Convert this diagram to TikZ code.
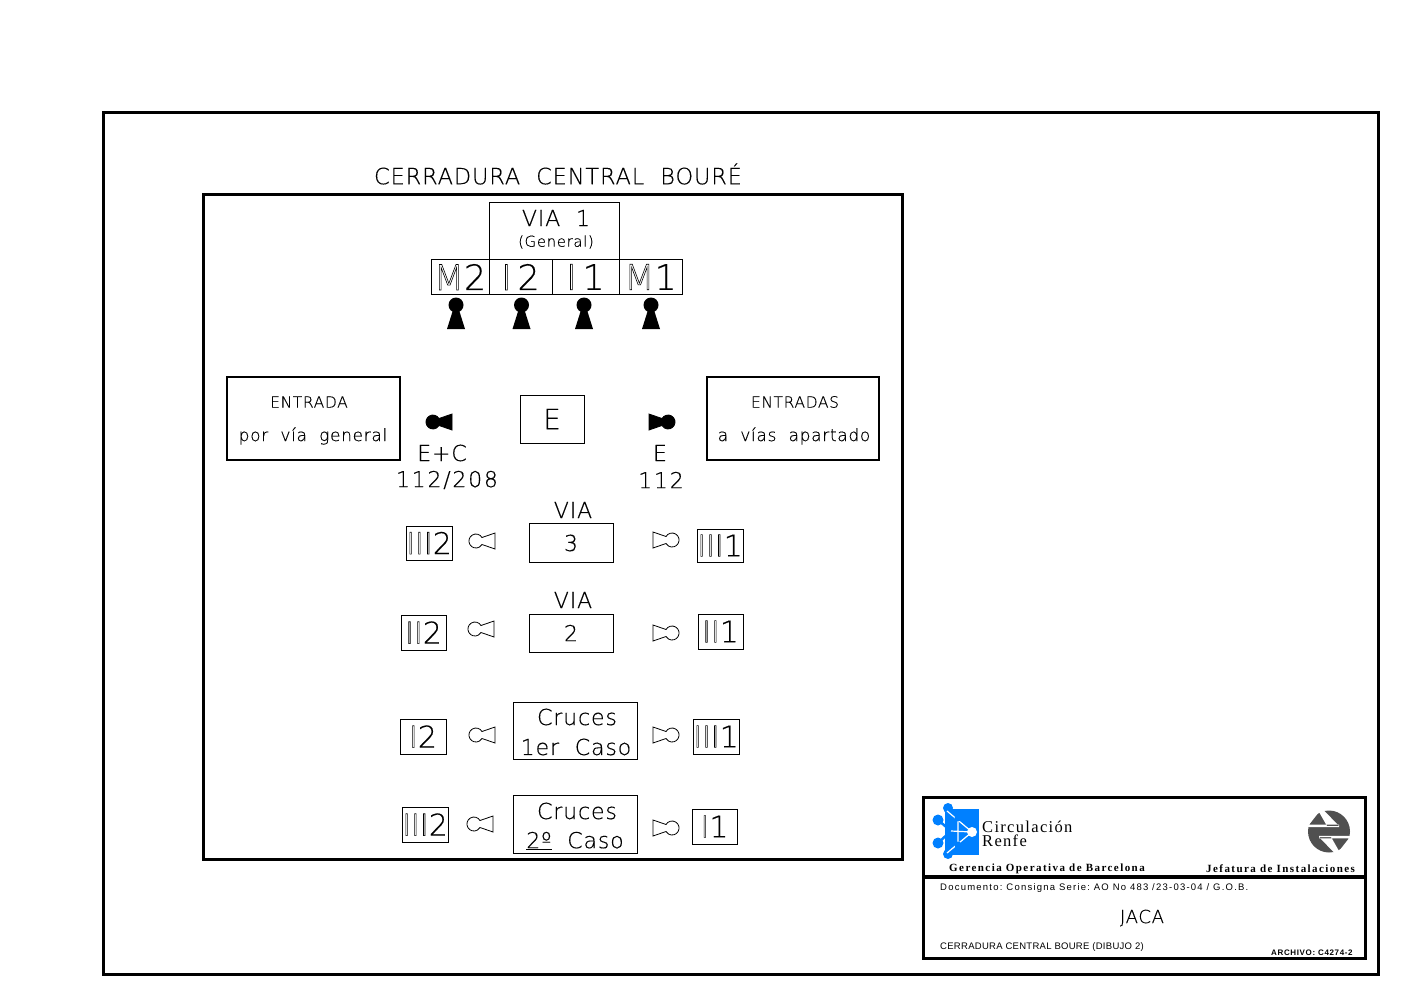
\documentclass[tikz,border=0pt]{standalone}
\usepackage{fontspec}
\setmainfont{DejaVu Sans ExtraLight}
\newfontfamily\cadfont[LetterSpace=4,FakeBold=0.35]{DejaVu Sans ExtraLight}
\newfontfamily\digfont[LetterSpace=8,FakeBold=0.35]{DejaVu Sans ExtraLight}
\newfontfamily\tagfont[FakeBold=0.35]{DejaVu Sans ExtraLight}
\newfontfamily\holfont{DejaVu Sans ExtraLight}
\newfontfamily\logofont[LetterSpace=8]{Liberation Serif}
\newfontfamily\boldfont[LetterSpace=13]{Liberation Serif}
\newfontfamily\smallfont[LetterSpace=3]{Liberation Sans}
\newfontfamily\docfont[LetterSpace=13]{Liberation Sans}
\newfontfamily\archfont[LetterSpace=8]{Liberation Sans}
\usepackage{xcolor}
\usepackage{tikz}
\usetikzlibrary{positioning}
\definecolor{logoblue}{RGB}{0,128,255}
\definecolor{logogray}{RGB}{80,80,80}
\newcommand{\hol}[1]{{\holfont\special{pdf:code 1 Tr 0.6 w}#1\special{pdf:code 0 Tr}}}
\tikzset{
  box/.style={draw, line width=1pt, inner sep=0pt, align=center, font=\cadfont\fontsize{22}{26}\selectfont},
  tag/.style={box, minimum width=46pt, minimum height=35pt, font=\tagfont\fontsize{30}{30}\selectfont},
  cell/.style={box, minimum height=35pt, font=\tagfont\fontsize{35}{35}\selectfont},
  panel/.style={draw, line width=2pt, inner sep=0pt},
  lbl/.style={inner sep=0pt, font=\cadfont\fontsize{22}{26}\selectfont},
  pantext/.style={inner sep=0pt, font=\cadfont\fontsize{17}{20}\selectfont},
  tiny/.style={inner sep=0pt, anchor=west, font=\smallfont\fontsize{9.5}{10}\selectfont},
  bold/.style={inner sep=0pt, anchor=west, font=\boldfont\bfseries\fontsize{11}{11}\selectfont},
  keyv/.pic={\fill (0,-24) circle (7.5) (-3,-19) -- (3,-19) -- (9,0) -- (-9,0) -- cycle;},
  keyr/.pic={\filldraw[fill=#1, draw=black, line width=.8pt] (0,-8) -- (-13,-3.5) arc (-30:-330:7) -- (0,8) -- cycle;},
  keyl/.pic={\filldraw[fill=#1, draw=black, line width=.8pt] (0,-8) -- (13,-3.5) arc (210:510:7) -- (0,8) -- cycle;}
}
\begin{document}
\begin{tikzpicture}[x=1pt,y=-1pt]
  \useasboundingbox (0,0) rectangle (1403,991);
  % frames
  \draw[line width=3pt] (103,112) rectangle (1378,974);
  \draw[line width=3pt] (203,194) rectangle (902,859);
  \node[lbl, font=\cadfont\fontsize{22.4}{26}\selectfont] (title) at (558,174) {CERRADURA\ \ CENTRAL\ \ BOURÉ};
  % via 1
  \node[box, minimum width=130pt, minimum height=57pt] (via1) at (554,231) {};
  \node[lbl] (via1a) at (556,218) {VIA\ \ 1};
  \node[inner sep=0pt, font=\cadfont\fontsize{15}{18}\selectfont] (via1b) at (556,242) {(General)};
  \node[cell, minimum width=58pt] (m2) at (460,277) {\hol{M}2};
  \node[cell, minimum width=63pt] (i2) at (520.5,277) {\hol{I}\,2};
  \node[cell, minimum width=67pt] (i1) at (585.5,277) {\hol{I}\,1};
  \node[cell, minimum width=63pt] (m1) at (650.5,277) {\hol{M}1};
  \foreach \x in {456,521.5,584,651} \pic at (\x,329) {keyv};
  % panels
  \node[panel, minimum width=173pt, minimum height=83pt] (entrada) at (313.5,418.5) {};
  \node[pantext, font=\cadfont\fontsize{15.5}{20}\selectfont] (entradaa) at (309,402) {ENTRADA};
  \node[pantext] (entradab) at (313,436) {por\ \ vía\ \ general};
  \node[panel, minimum width=172pt, minimum height=83pt] (entradas) at (793,418.5) {};
  \node[pantext, font=\cadfont\fontsize{15.5}{20}\selectfont] (entradasa) at (795,402) {ENTRADAS};
  \node[pantext] (entradasb) at (794,436) {a\ \ vías\ \ apartado};
  \node[box, minimum width=64pt, minimum height=48pt, font=\cadfont\fontsize{28}{28}\selectfont] (e) at (552,419) {E};
  \pic at (452,422) {keyr=black};
  \pic at (649,422) {keyl=black};
  \node[lbl] (ec) at (442,453) {E+C};
  \node[lbl, font=\digfont\fontsize{22}{26}\selectfont] (ecn) at (447,480) {112/208};
  \node[lbl] (er) at (660,453) {E};
  \node[lbl, font=\digfont\fontsize{22}{26}\selectfont] (ern) at (661,480) {112};
  % via 3
  \node[lbl] (via3) at (573,510) {VIA};
  \node[box, minimum width=84pt, minimum height=39pt] (b3) at (571,543) {3};
  \node[tag, minimum height=34pt] (iii2a) at (429,543) {\hol{III}2};
  \node[tag, minimum height=33pt] (iii1a) at (720,545.5) {\hol{III}1};
  \pic at (495,541) {keyr=white};
  \pic at (653,540) {keyl=white};
  % via 2
  \node[lbl] (via2) at (573,600) {VIA};
  \node[box, minimum width=84pt, minimum height=38pt] (b2) at (571,633) {2};
  \node[tag, minimum width=45pt] (ii2) at (423.5,632.5) {\hol{II}2};
  \node[tag, minimum width=45pt] (ii1) at (720.5,631.5) {\hol{II}1};
  \pic at (494,629) {keyr=white};
  \pic at (653,633) {keyl=white};
  % cruces
  \node[box, minimum width=124pt, minimum height=57pt] (cr1) at (575,730.5) {};
  \node[lbl] (cr1a) at (577,717) {Cruces};
  \node[lbl] (cr1b) at (576,747) {1er\ \ Caso};
  \node[tag] (i2b) at (423,736.5) {\hol{I}2};
  \node[tag] (iii1b) at (716,736.5) {\hol{III}1};
  \pic at (495,735) {keyr=white};
  \pic at (653,735) {keyl=white};
  \node[box, minimum width=124pt, minimum height=58pt] (cr2) at (575,824) {};
  \node[lbl] (cr2a) at (577,811) {Cruces};
  \node[lbl] (cr2b) at (575,841) {\underline{2º}\ \ Caso};
  \node[tag] (iii2b) at (425,824.5) {\hol{III}2};
  \node[tag, minimum width=45pt] (i1b) at (714.5,826.5) {\hol{I}1};
  \pic at (493,824) {keyr=white};
  \pic at (653,828) {keyl=white};
  % title block
  \draw[line width=3pt] (923,797) rectangle (1365,958);
  \draw[line width=3.5pt] (923,877) -- (1365,877);
  % blue logo
  \fill[logoblue] (945,809) rectangle (979,855);
  \draw[logoblue, line width=2.5pt] (948,808) -- (958,818) (938,820) -- (951,831) -- (938,843) (948,854) -- (958,845);
  \fill[logoblue] (948,808) circle (5) (938,820) circle (5.5) (951,831) circle (5.5) (938,843) circle (5.5) (948,854) circle (5);
  \draw[white, line width=1.2pt] (947,811) -- (972,832) -- (947,853) (951,831) -- (972,832) (958,818) -- (958,845);
  \fill[white] (972,832) circle (5);
  \fill[logoblue] (958,845) circle (3.5) (958,818) circle (3.5);
  \node[inner sep=0pt, anchor=west, font=\logofont\fontsize{16.5}{17}\selectfont] (circ) at (982,827) {Circulación};
  \node[inner sep=0pt, anchor=west, font=\logofont\fontsize{16.5}{17}\selectfont] (renfe) at (982,841) {Renfe};
  % renfe logo
  \fill[logogray] (1329,831.5) circle (21);
  \fill[white] (1305,824.7) rectangle (1339,827.2) (1319,812) -- (1323,809.5) -- (1339,826) -- (1327,826) -- cycle
    (1308,826) -- (1319,812) -- (1310,806) -- (1300,815) -- cycle;
  \fill[white] (1319,835.8) rectangle (1353,838.3) (1339,851) -- (1335,853.5) -- (1319,837) -- (1331,837) -- cycle
    (1350,837) -- (1339,851) -- (1348,857) -- (1358,848) -- cycle;
  \node[bold] (gerencia) at (949,868.5) {Gerencia\ Operativa\ de\ Barcelona};
  \node[bold] (jefatura) at (1206,868.5) {Jefatura\ de\ Instalaciones};
  \node[tiny, font=\docfont\fontsize{9.5}{10}\selectfont] (doc) at (940,888.5) {Documento:\ Consigna\ Serie:\ AO\ No\ 483\ /23-03-04\ /\ G.O.B.};
  \node[inner sep=0pt, font=\cadfont\fontsize{18}{18}\selectfont] (jaca) at (1142,918) {JACA};
  \node[tiny] (cer) at (940,947.5) {CERRADURA\ CENTRAL\ BOURE\ (DIBUJO\ 2)};
  \node[tiny, font=\archfont\bfseries\fontsize{8}{8}\selectfont] (arch) at (1271,952.5) {ARCHIVO:\ C4274-2};
\end{tikzpicture}
\end{document}
